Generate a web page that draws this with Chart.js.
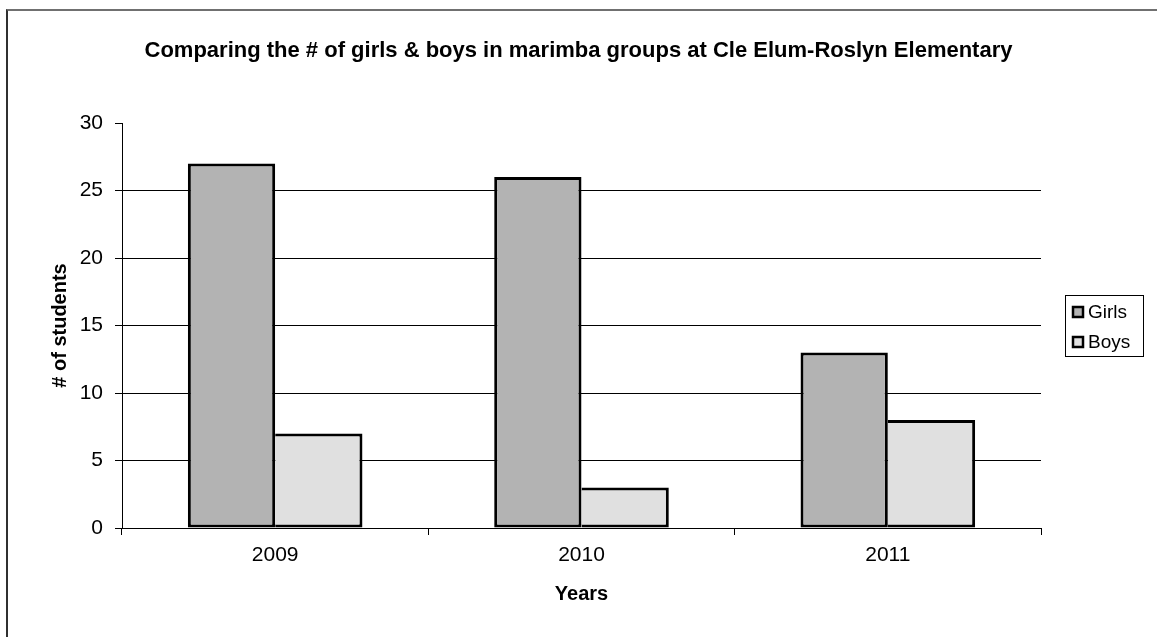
<!DOCTYPE html>
<html>
<head>
<meta charset="utf-8">
<script src="https://cdn.jsdelivr.net/npm/chart.js@4.4.0/dist/chart.umd.min.js"></script>
<style>
  html, body { margin: 0; padding: 0; background: #fff; overflow: hidden; }
  #frame {
    position: absolute; left: 6px; top: 9px; width: 1151px; height: 628px;
    box-sizing: border-box;
    border-top: 2px solid #707070; border-left: 2px solid #303030;
  }
  #wrap { position: absolute; left: 0; top: 0; width: 1157px; height: 637px; }
</style>
</head>
<body>
<div id="frame"></div>
<div id="wrap"><canvas id="graficoAlunos"></canvas></div>
<script>
// marimba groups, students per year
const years = ['2009', '2010', '2011'];
const girls = [27, 26, 13];
const boys = [7, 3, 8];
const yTicks = [0, 5, 10, 15, 20, 25, 30];

const fontFamily = "'Liberation Sans', Arial, Helvetica, sans-serif";

// boxed legend on the right, centred on the plot area
const legendBox = {
  id: 'legendBox',
  afterDraw(chart) {
    const { ctx, chartArea } = chart;
    const sets = chart.data.datasets;
    ctx.save();
    ctx.font = `19px ${fontFamily}`;
    const textW = Math.max(...sets.map(d => ctx.measureText(d.label).width));
    const rowH = 30;
    const w = Math.round(8 + 10 + 5 + textW + 13);
    const h = rowH * sets.length + 1;
    const x = Math.round(chartArea.right + 24);
    const y = Math.round((chartArea.top + chartArea.bottom) / 2 - h / 2);
    ctx.strokeStyle = '#000';
    ctx.lineWidth = 1;
    ctx.strokeRect(x + 0.5, y + 0.5, w, h);
    sets.forEach((d, i) => {
      const cy = y + 17 + i * rowH;
      ctx.fillStyle = d.backgroundColor;
      ctx.fillRect(x + 8, cy - 5, 10, 10);
      ctx.lineWidth = 2.5;
      ctx.strokeRect(x + 8, cy - 5, 10, 10);
      ctx.fillStyle = '#000';
      ctx.textBaseline = 'middle';
      ctx.textAlign = 'left';
      ctx.fillText(d.label, x + 23, cy + 1);
    });
    ctx.restore();
  }
};

const graficoAlunos = new Chart(document.getElementById('graficoAlunos'), {
  type: 'bar',
  data: {
    labels: years,
    datasets: [
      {
        label: 'Girls',
        data: girls,
        backgroundColor: '#b3b3b3',
        borderColor: '#000',
        borderWidth: 3,
        borderSkipped: false
      },
      {
        label: 'Boys',
        data: boys,
        backgroundColor: '#e0e0e0',
        borderColor: '#000',
        borderWidth: 3,
        // shares its left edge with the Girls bar
        borderSkipped: 'left'
      }
    ]
  },
  options: {
    responsive: true,
    maintainAspectRatio: false,
    animation: false,
    layout: { padding: 0 },
    datasets: { bar: { categoryPercentage: 0.57, barPercentage: 1 } },
    plugins: {
      legend: { display: false },
      tooltip: { enabled: false },
      title: {
        display: true,
        text: 'Comparing the # of girls & boys in marimba groups at Cle Elum-Roslyn Elementary',
        color: '#000',
        font: { family: fontFamily, size: 22, weight: 'bold' },
        padding: { top: 38, bottom: 58.6 }
      }
    },
    scales: {
      x: {
        grid: { display: true, drawOnChartArea: false, offset: true, color: '#000', tickLength: 7 },
        border: { color: '#000', width: 1 },
        ticks: { color: '#000', font: { family: fontFamily, size: 21 }, padding: 8 },
        title: {
          display: true,
          text: 'Years',
          color: '#000',
          font: { family: fontFamily, size: 20, weight: 'bold' },
          padding: { top: 0, bottom: 31 }
        },
        afterFit: s => { s.height = 109; }
      },
      y: {
        min: yTicks[0],
        max: yTicks[yTicks.length - 1],
        afterBuildTicks: s => { s.ticks = yTicks.map(v => ({ value: v })); },
        ticks: { color: '#000', font: { family: fontFamily, size: 21 }, padding: 12 },
        grid: {
          color: c => (c.tick && c.tick.value === 30 ? 'rgba(0,0,0,0)' : '#000'),
          tickColor: '#000',
          tickLength: 7
        },
        border: { color: '#000', width: 1 },
        title: {
          display: true,
          text: '# of students',
          color: '#000',
          font: { family: fontFamily, size: 20, weight: 'bold' },
          padding: { top: 48, bottom: 0 }
        },
        afterFit: s => { s.width = 122; }
      },
      // room for the legend box
      legendSpace: {
        type: 'linear',
        position: 'right',
        grid: { display: false },
        ticks: { display: false },
        border: { display: false },
        afterFit: s => { s.width = 116; }
      }
    }
  },
  plugins: [legendBox]
});
</script>
</body>
</html>
